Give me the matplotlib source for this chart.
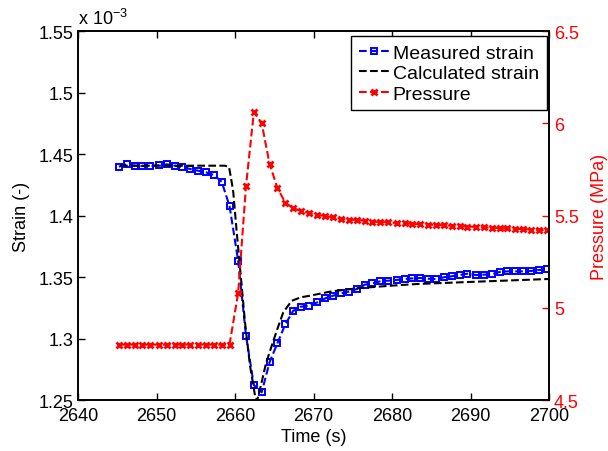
import matplotlib
matplotlib.use('Agg')
import matplotlib.pyplot as plt
from matplotlib.ticker import FuncFormatter

plt.rcParams['font.family'] = ['Liberation Sans', 'DejaVu Sans']
plt.rcParams['mathtext.fontset'] = 'custom'
plt.rcParams['mathtext.rm'] = 'Liberation Sans'
plt.rcParams['font.size'] = 13

# sample times (s) for measured strain and pressure
time = [2645.2, 2646.2, 2647.2, 2648.2, 2649.2, 2650.3, 2651.3, 2652.3, 2653.3, 2654.3,
        2655.3, 2656.3, 2657.3, 2658.3, 2659.3, 2660.4, 2661.4, 2662.4, 2663.4, 2664.4,
        2665.4, 2666.4, 2667.4, 2668.4, 2669.4, 2670.5, 2671.5, 2672.5, 2673.5, 2674.5,
        2675.5, 2676.5, 2677.5, 2678.5, 2679.5, 2680.6, 2681.6, 2682.6, 2683.6, 2684.6,
        2685.6, 2686.6, 2687.6, 2688.6, 2689.6, 2690.7, 2691.7, 2692.7, 2693.7, 2694.7,
        2695.7, 2696.7, 2697.7, 2698.7, 2699.7]

# measured strain (x 1e-3)
strain_meas = [1.4397, 1.4416, 1.4405, 1.4402, 1.4402, 1.4408, 1.4416, 1.4405, 1.4392, 1.4378,
               1.4364, 1.4351, 1.4329, 1.4275, 1.4077, 1.3633, 1.3023, 1.2622, 1.2563, 1.2807,
               1.2961, 1.3115, 1.3224, 1.3259, 1.3267, 1.3294, 1.3327, 1.3348, 1.3367, 1.3381,
               1.3402, 1.3437, 1.3449, 1.3465, 1.3470, 1.3476, 1.3484, 1.3489, 1.3492, 1.3486,
               1.3484, 1.3498, 1.3506, 1.3516, 1.3527, 1.3516, 1.3519, 1.3522, 1.3541, 1.3546,
               1.3546, 1.3546, 1.3549, 1.3557, 1.3563]

# pressure (MPa)
pressure = [4.80, 4.80, 4.80, 4.80, 4.80, 4.80, 4.80, 4.80, 4.80, 4.80,
            4.80, 4.80, 4.80, 4.80, 4.80, 5.08, 5.66, 6.06, 6.00, 5.78,
            5.65, 5.57, 5.54, 5.525, 5.514, 5.504, 5.496, 5.490, 5.481, 5.477,
            5.476, 5.472, 5.466, 5.465, 5.463, 5.459, 5.458, 5.454, 5.453, 5.451,
            5.449, 5.447, 5.444, 5.442, 5.440, 5.438, 5.436, 5.434, 5.432, 5.430,
            5.428, 5.426, 5.424, 5.422, 5.420]

# calculated strain (x 1e-3)
time_calc = [2645.35, 2658.73, 2659.24, 2659.58, 2659.78, 2660.22, 2660.85, 2661.27, 2661.91,
             2662.55, 2662.80, 2663.40, 2663.95, 2664.68, 2665.35, 2666.15, 2667.22, 2668.40,
             2669.55, 2672.10, 2675.50, 2679.75, 2683.15, 2690.78, 2700.0]
strain_calc = [1.4405, 1.4405, 1.4394, 1.4270, 1.4189, 1.3863, 1.3429, 1.3132, 1.2779,
               1.2535, 1.2490, 1.2646, 1.2800, 1.2941, 1.3070, 1.3213, 1.3307, 1.3335,
               1.3348, 1.3381, 1.3408, 1.3429, 1.3443, 1.3462, 1.3484]

fig = plt.figure(figsize=(6.08, 4.52), dpi=100)
ax1 = fig.add_axes([0.1283, 0.1128, 0.7747, 0.8164])
ax2 = ax1.twinx()

l1, = ax1.plot(time, strain_meas, '--s', color='b', lw=1.5, ms=5, mew=1.4,
               mfc='none', label='Measured strain')
l2, = ax1.plot(time_calc, strain_calc, '--', color='k', lw=1.5, label='Calculated strain')
l3, = ax2.plot(time, pressure, '--x', color='r', lw=1.5, ms=5, mew=2, label='Pressure')

ax1.set_xlim(2640, 2700)
ax1.set_ylim(1.25, 1.55)
ax2.set_ylim(4.5, 6.5)
ax1.set_xticks([2640, 2650, 2660, 2670, 2680, 2690, 2700])
ax1.set_yticks([1.25, 1.3, 1.35, 1.4, 1.45, 1.5, 1.55])
ax2.set_yticks([4.5, 5, 5.5, 6, 6.5])
fmt = FuncFormatter(lambda v, p: '%g' % v)
ax1.yaxis.set_major_formatter(fmt)
ax2.yaxis.set_major_formatter(fmt)

ax1.tick_params(direction='in', length=5, top=True, right=False, width=1)
ax1.tick_params(axis='x', pad=5)
ax2.tick_params(direction='in', length=5, colors='r', width=1)
for s in ax1.spines.values():
    s.set_linewidth(1.2)
for s in ax2.spines.values():
    s.set_linewidth(1.2)

ax1.set_xlabel('Time (s)', labelpad=3)
ax1.set_ylabel('Strain (-)', labelpad=6)
ax2.set_ylabel('Pressure (MPa)', color='r', labelpad=9)
ax1.text(0, 1.008, r'x 10$^{-3}$', transform=ax1.transAxes, ha='left', va='bottom')

leg = ax2.legend([l1, l2, l3], ['Measured strain', 'Calculated strain', 'Pressure'],
                 loc='upper right', bbox_to_anchor=(0.995, 0.986), borderaxespad=0,
                 fancybox=False, edgecolor='k', framealpha=1, handlelength=1.6,
                 handletextpad=0.15, labelspacing=0.15, borderpad=0.4, markerscale=0.8,
                 fontsize=14)
leg.get_frame().set_linewidth(1.0)

fig.savefig('out.png', dpi=100)
